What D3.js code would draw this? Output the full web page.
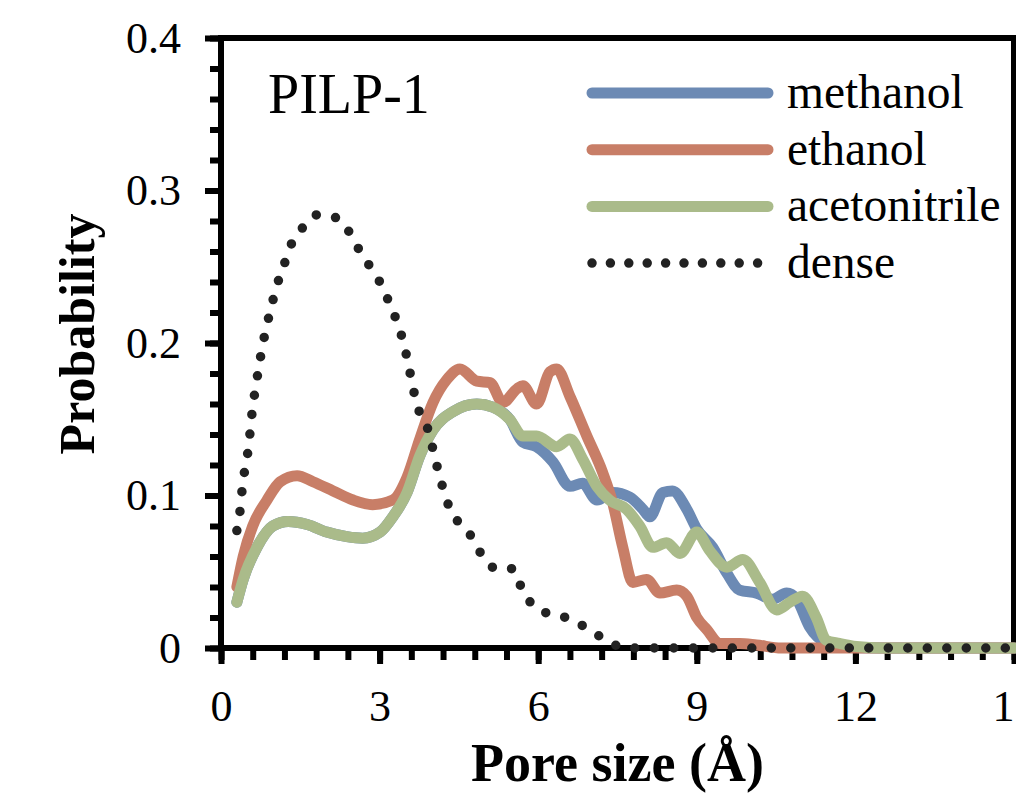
<!DOCTYPE html>
<html>
<head>
<meta charset="utf-8">
<script src="https://cdn.jsdelivr.net/npm/d3@7"></script>
<style>
  body { margin: 0; background: #fff; }
  svg { display: block; font-family: "Liberation Serif", "Times New Roman", serif; }
</style>
</head>
<body>
<svg></svg>
<script>
// pore size (A) vs probability
var methanol = [[0.30,0.030],[0.42,0.045],[0.68,0.066],[0.98,0.080],[1.27,0.083],[1.63,0.081],[2.00,0.076],
    [2.38,0.073],[2.68,0.072],[3.01,0.076],[3.25,0.086],[3.52,0.102],[3.76,0.126],[4.01,0.143],[4.39,0.155],
    [4.84,0.160],[5.14,0.158],[5.46,0.150],[5.71,0.135],[5.97,0.132],[6.28,0.122],[6.60,0.106],[6.84,0.108],
    [7.11,0.097],[7.41,0.102],[7.73,0.099],[7.98,0.091],[8.11,0.086],[8.36,0.102],[8.54,0.103],[8.81,0.091],
    [9.00,0.078],[9.30,0.066],[9.57,0.049],[9.81,0.038],[10.13,0.036],[10.43,0.032],[10.70,0.036],[10.89,0.032],
    [11.13,0.014],[11.46,0.003],[11.70,0.001],[12.5,0],[15,0]];
var ethanol = [[0.30,0.040],[0.42,0.060],[0.60,0.080],[0.87,0.097],[1.12,0.109],[1.44,0.113],[1.74,0.109],
    [2.12,0.103],[2.50,0.097],[2.87,0.094],[3.25,0.097],[3.52,0.112],[3.76,0.137],[4.01,0.161],[4.27,0.176],
    [4.52,0.183],[4.84,0.175],[5.09,0.174],[5.33,0.161],[5.60,0.170],[5.71,0.172],[5.97,0.160],[6.22,0.181],
    [6.35,0.183],[6.60,0.165],[6.92,0.139],[7.22,0.115],[7.41,0.095],[7.60,0.066],[7.79,0.043],[8.05,0.045],
    [8.30,0.036],[8.62,0.038],[8.81,0.034],[9.00,0.020],[9.19,0.012],[9.43,0.003],[9.81,0.003],[10.13,0.002],
    [10.6,0],[15,0]];
var acetonitrile = [[0.30,0.030],[0.42,0.045],[0.68,0.066],[0.98,0.080],[1.27,0.083],[1.63,0.081],[2.00,0.076],
    [2.38,0.073],[2.68,0.072],[3.01,0.076],[3.25,0.086],[3.52,0.102],[3.76,0.126],[4.01,0.143],[4.39,0.155],
    [4.84,0.160],[5.14,0.158],[5.46,0.150],[5.71,0.139],[5.97,0.139],[6.35,0.132],[6.60,0.137],[6.84,0.124],
    [7.11,0.106],[7.35,0.097],[7.67,0.091],[7.92,0.080],[8.17,0.066],[8.43,0.069],[8.68,0.062],[9.00,0.076],
    [9.24,0.064],[9.57,0.053],[9.87,0.058],[10.19,0.043],[10.51,0.025],[10.76,0.030],[11.00,0.034],[11.26,0.020],
    [11.45,0.005],[11.70,0.003],[12.02,0.001],[12.5,0],[15,0]];
var dense = [[0.30,0.077],[0.36,0.090],[0.40,0.104],[0.45,0.117],[0.51,0.129],[0.60,0.158],[0.66,0.172],
    [0.72,0.185],[0.79,0.199],[0.87,0.212],[0.96,0.225],[1.06,0.238],[1.19,0.251],[1.32,0.264],[1.53,0.275],
    [1.81,0.284],[2.19,0.282],[2.44,0.272],[2.63,0.260],[2.84,0.249],[3.05,0.237],[3.21,0.224],[3.35,0.212],
    [3.46,0.199],[3.55,0.185],[3.63,0.171],[3.72,0.158],[3.89,0.146],[3.99,0.133],[4.08,0.120],[4.18,0.107],
    [4.31,0.093],[4.50,0.082],[4.76,0.072],[4.95,0.060],[5.22,0.052],[5.52,0.052],[5.69,0.039],[5.90,0.028],
    [6.24,0.022],[6.62,0.019],[6.96,0.012],[7.30,0.005],[7.64,0],[15,0]];

var seriesNames = ['methanol', 'ethanol', 'acetonitrile', 'dense'];
var xTicks = [0, 3, 6, 9, 12, 15];
var yTicks = [0, 0.1, 0.2, 0.3, 0.4];

var width = 1016;
var height = 795;
var colors = {methanol: '#6c8ab4', ethanol: '#c87e67', acetonitrile: '#aabb8a', dense: '#222'};
var seriesData = {methanol: methanol, ethanol: ethanol, acetonitrile: acetonitrile, dense: dense};

var svg = d3.select('svg')
    .attr('width', width)
    .attr('height', height);

var xScale = d3.scaleLinear().domain([0, 15]).range([221, 1014]);
var yScale = d3.scaleLinear().domain([0, 0.4]).range([648, 38]);

// frame
svg.append('rect')
    .attr('x', xScale(0))
    .attr('y', yScale(0.4))
    .attr('width', xScale(15) - xScale(0))
    .attr('height', yScale(0) - yScale(0.4))
    .attr('fill', 'none')
    .attr('stroke', '#000')
    .attr('stroke-width', 6);

function styleAxis(g) {
    g.select('.domain').remove();
    g.selectAll('line').attr('stroke', '#000').attr('stroke-width', 6);
    g.selectAll('text').attr('fill', '#000').attr('font-size', 44)
        .attr('font-family', '"Liberation Serif", serif');
}

svg.append('g')
    .attr('transform', 'translate(' + xScale(0) + ',0)')
    .call(d3.axisLeft(yScale).tickValues(d3.range(0, 0.401, 0.02)).tickSize(11).tickFormat(''))
    .call(styleAxis);

svg.append('g')
    .attr('transform', 'translate(' + xScale(0) + ',0)')
    .call(d3.axisLeft(yScale).tickValues(yTicks).tickSize(16).tickPadding(24)
        .tickFormat(d => d === 0 ? '0' : d.toFixed(1)))
    .call(styleAxis);

svg.append('g')
    .attr('transform', 'translate(0,' + yScale(0) + ')')
    .call(d3.axisBottom(xScale).tickValues(d3.range(0, 15.01, 0.6)).tickSize(12).tickFormat(''))
    .call(styleAxis);

svg.append('g')
    .attr('transform', 'translate(0,' + yScale(0) + ')')
    .call(d3.axisBottom(xScale).tickValues(xTicks).tickSize(16).tickPadding(26))
    .call(styleAxis);

// axis titles
svg.append('text')
    .attr('x', (xScale(0) + xScale(15)) / 2)
    .attr('y', 781)
    .attr('text-anchor', 'middle')
    .attr('font-weight', 'bold')
    .attr('font-size', 54)
    .text('Pore size (Å)');

svg.append('text')
    .attr('transform', 'translate(94,334) rotate(-90)')
    .attr('text-anchor', 'middle')
    .attr('font-weight', 'bold')
    .attr('font-size', 50)
    .text('Probability');

svg.append('text')
    .attr('x', 268)
    .attr('y', 113)
    .attr('font-size', 56)
    .text('PILP-1');

// series
var line = d3.line()
    .x(d => xScale(d[0]))
    .y(d => yScale(d[1]))
    .curve(d3.curveMonotoneX);

seriesNames.forEach(function(name) {
    var path = svg.append('path')
        .datum(seriesData[name])
        .attr('d', line)
        .attr('fill', 'none')
        .attr('stroke', colors[name])
        .attr('stroke-linecap', 'round')
        .attr('stroke-linejoin', 'round');
    if (name === 'dense') {
        path.attr('stroke-width', 9.5).attr('stroke-dasharray', '0 19.5');
    } else {
        path.attr('stroke-width', 11);
    }
});

// legend
var legend = svg.append('g')
    .selectAll('g')
    .data(seriesNames)
    .enter()
    .append('g')
      .attr('transform', (d, i) => 'translate(0,' + (93 + i * 56.7) + ')');

legend.append('line')
    .attr('x1', 592)
    .attr('x2', 768)
    .attr('stroke', d => colors[d])
    .attr('stroke-width', d => d === 'dense' ? 9.5 : 11)
    .attr('stroke-linecap', 'round')
    .attr('stroke-dasharray', d => d === 'dense' ? '0 18.4' : null);

legend.append('text')
    .attr('x', 787)
    .attr('y', 15)
    .attr('font-size', 47.5)
    .text(d => d);
</script>
</body>
</html>
